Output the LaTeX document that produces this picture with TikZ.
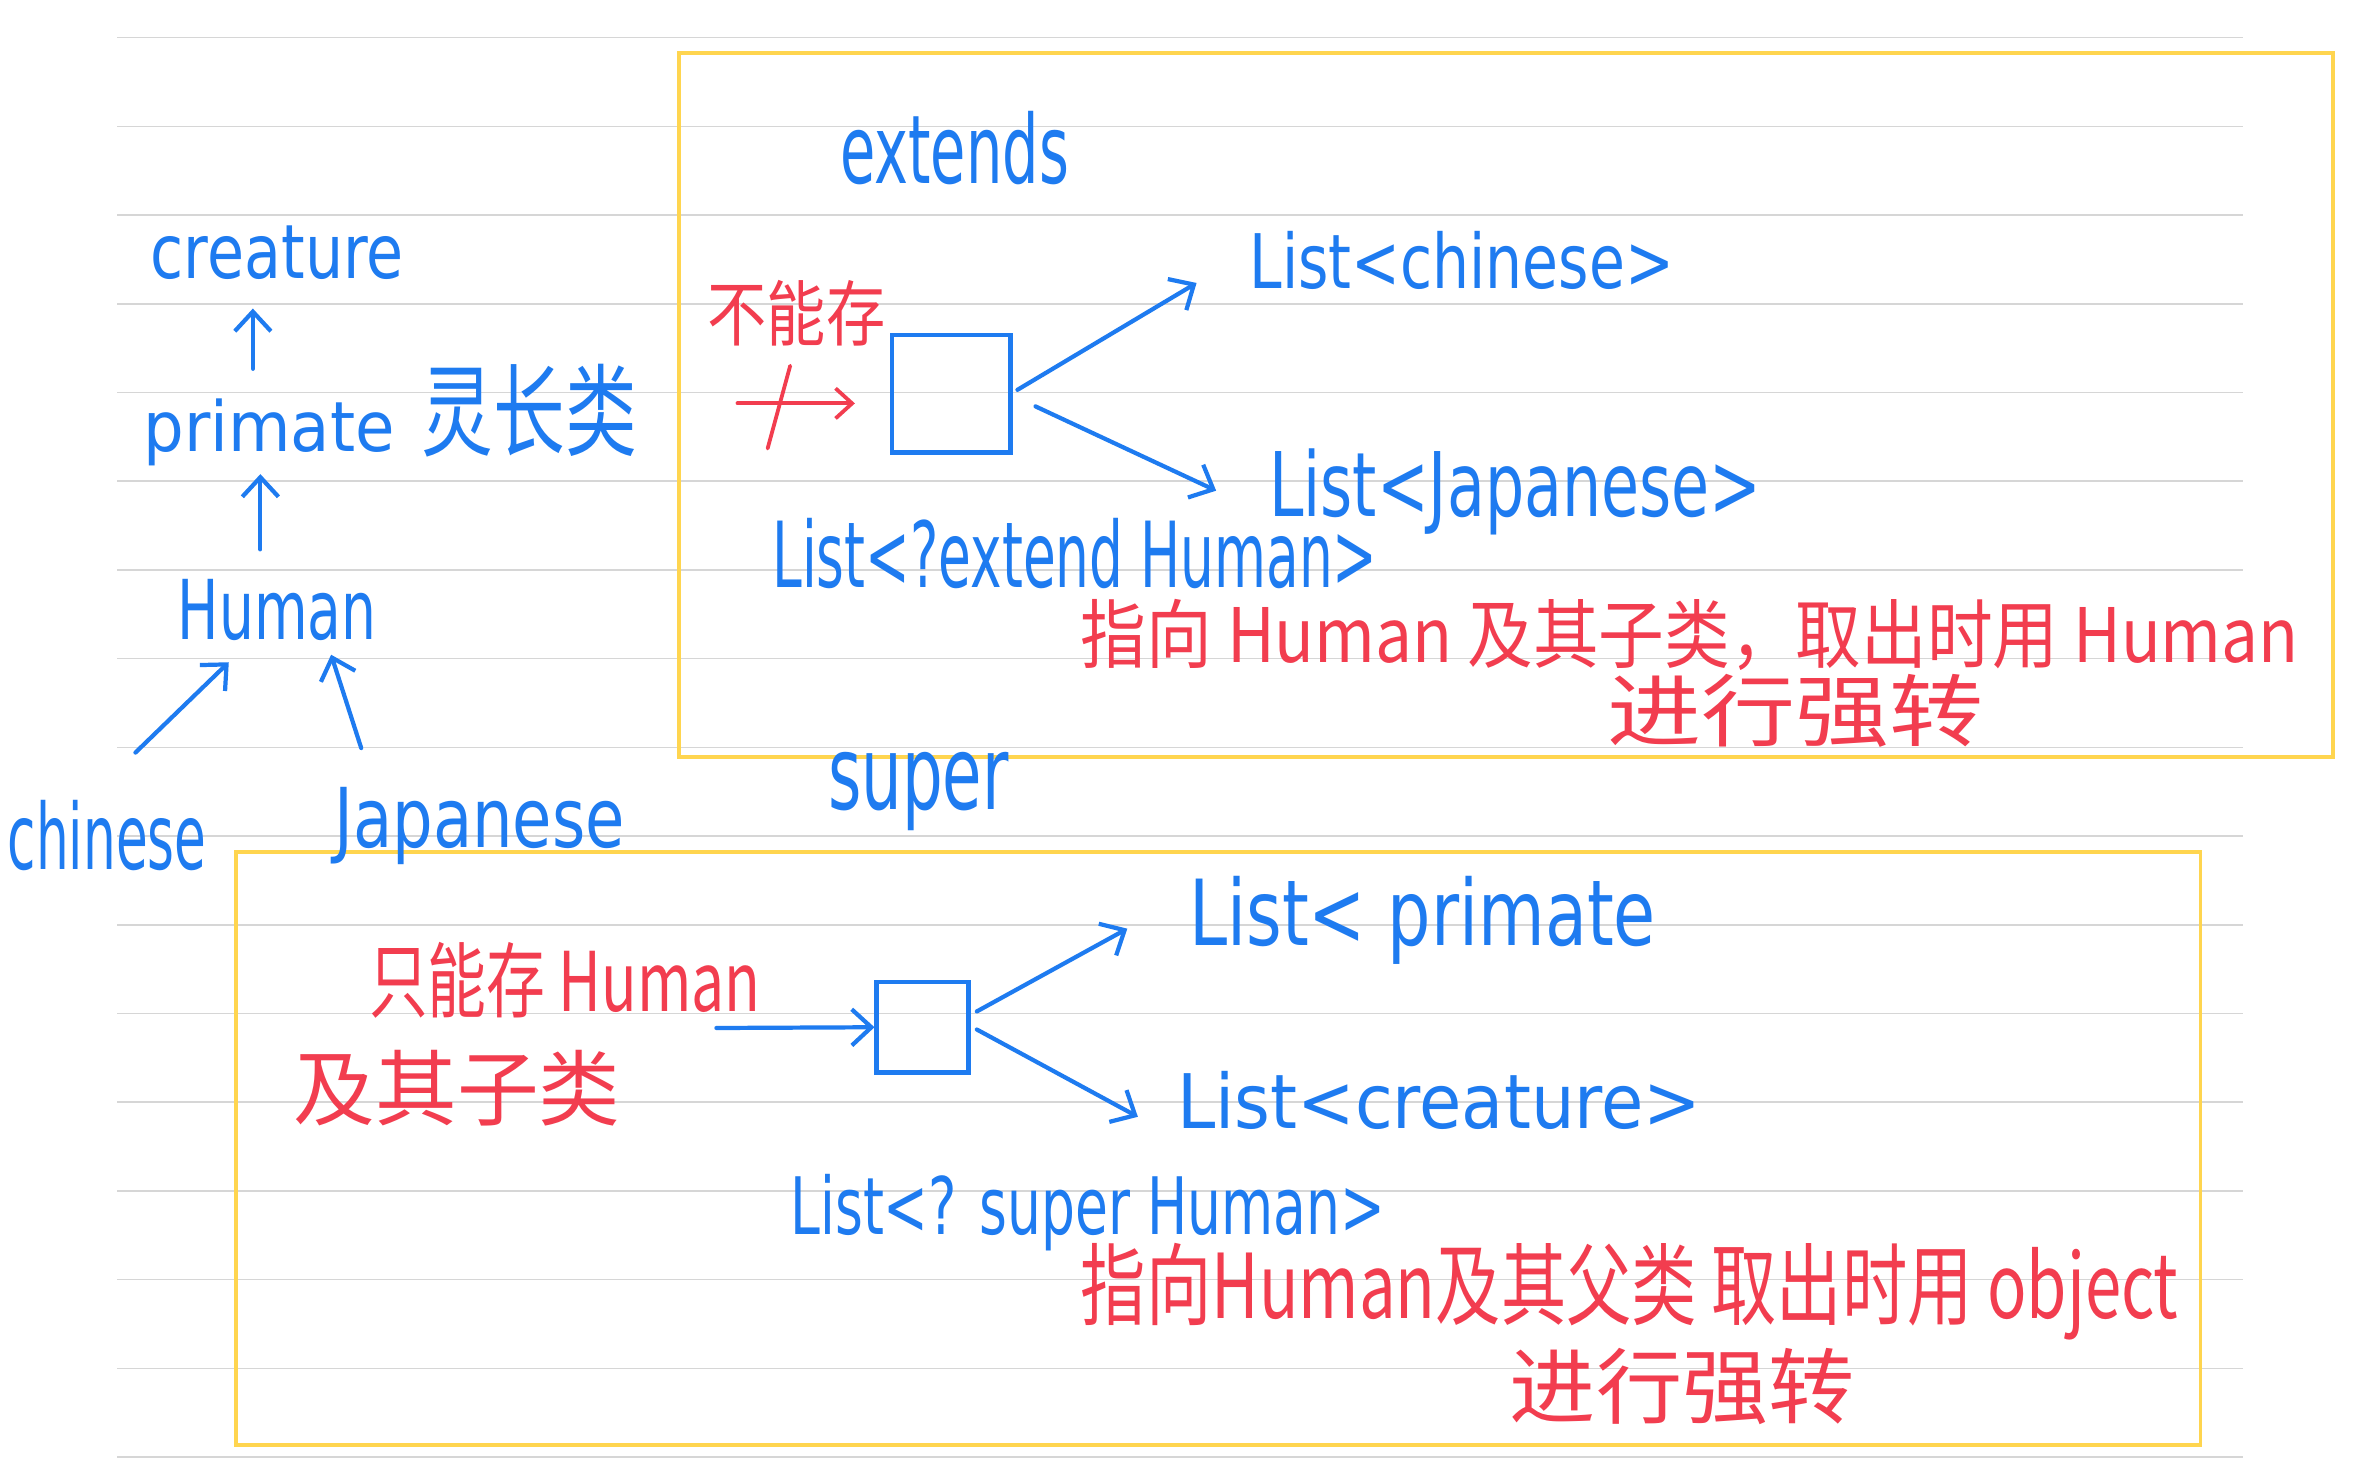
\documentclass[tikz,border=0pt]{standalone}
\usepackage{fontspec}
\usepackage{graphicx}
\setmainfont{DejaVu Sans}
\newfontfamily\cjk{Noto Sans CJK SC}
\usetikzlibrary{arrows.meta}
\definecolor{pen}{HTML}{1E7BF0}
\definecolor{ink}{HTML}{F23D4F}
\definecolor{hl}{HTML}{FFD54F}
\definecolor{rulec}{HTML}{D6D6D6}
\newcommand\fitbox[3]{\resizebox{#1pt}{#2pt}{#3}}
\begin{document}
\begin{tikzpicture}[x=1pt,y=-1pt,
  lbl/.style={inner sep=0pt, anchor=base west, text=pen},
  note/.style={inner sep=0pt, anchor=base west, text=ink},
  arr/.style={draw=pen, line width=2.8pt, line cap=round, -{Straight Barb[length=13pt,width=24pt,line width=2.8pt]}},
  redarr/.style={draw=ink, line width=2.5pt, line cap=round, -{Straight Barb[length=11pt,width=20pt,line width=2.5pt]}},
  boxc/.style={draw=hl, line width=2.5pt},
  sq/.style={draw=pen, line width=3pt, inner sep=0pt}]
\useasboundingbox[fill=white] (0,0) rectangle (1568,970);
% ruled paper
\foreach \k in {0,...,16}{\draw[rulec, line width=1pt] (78,{25+58.94*\k}) -- (1490,{25+58.94*\k});}
% frames
\draw[boxc] (451,35) rectangle (1550,503);
\draw[boxc] (157,566) rectangle (1462,960);
% hierarchy
\node[lbl] (creature) at (100,185) {\fitbox{168}{35}{creature}};
\node[lbl] (primate) at (95,300) {\fitbox{167}{35}{primate}};
\node[lbl] (ling) at (280,298) {\fitbox{143}{56}{\cjk 灵长类}};
\node[lbl] (human) at (118,425) {\fitbox{132}{40}{Human}};
\node[lbl] (chinese) at (5,578) {\fitbox{132}{46}{chinese}};
\node[lbl] (japanese) at (222,563) {\fitbox{193}{40}{Japanese}};
\coordinate (a1s) at (168,245); \coordinate (a1e) at (168,205);
\coordinate (a2s) at (173,365); \coordinate (a2e) at (173,315);
\coordinate (a3s) at (90,500);  \coordinate (a3e) at (152,440);
\coordinate (a4s) at (240,497); \coordinate (a4e) at (220,435);
\draw[arr] (a1s) -- (a1e);
\draw[arr] (a2s) -- (a2e);
\draw[arr] (a3s) -- (a3e);
\draw[arr] (a4s) -- (a4e);
% extends
\node[lbl] (extends) at (558,122) {\fitbox{152}{48}{extends}};
\node[note] (cannot) at (470,226) {\fitbox{118}{40}{\cjk 不能存}};
\node[sq, minimum width=79pt, minimum height=78pt] (sq1) at (632,261.5) {};
\coordinate (r1s) at (490,268); \coordinate (r1e) at (568,268);
\coordinate (x1s) at (510,298); \coordinate (x1e) at (525,243);
\draw[redarr] (r1s) -- (r1e);
\draw[draw=ink, line width=2.5pt, line cap=round] (x1s) -- (x1e);
\node[lbl] (lch) at (830,192) {\fitbox{282}{38}{List<chinese>}};
\node[lbl] (ljp) at (843,343) {\fitbox{327}{45}{List<Japanese>}};
\coordinate (b1s) at (676,259); \coordinate (b1e) at (795,188);
\coordinate (b2s) at (688,270); \coordinate (b2e) at (808,326);
\draw[arr] (b1s) -- (b1e);
\draw[arr] (b2s) -- (b2e);
\node[lbl] (lext) at (513,390) {\fitbox{402}{46}{List<?extend Human>}};
\node[note] (n1) at (718,440) {\fitbox{809}{42}{\cjk 指向 Human 及其子类，取出时用 Human}};
\node[note] (n2) at (1068,492) {\fitbox{250}{44}{\cjk 进行强转}};
% super
\node[lbl] (super) at (550,538) {\fitbox{120}{38}{super}};
\node[note] (only) at (245,672) {\fitbox{260}{46}{\cjk 只能存 Human}};
\node[note] (sub) at (195,744) {\fitbox{217}{46}{\cjk 及其子类}};
\node[sq, minimum width=61pt, minimum height=60pt] (sq2) at (613,682.5) {};
\coordinate (inS) at (476,683);
\draw[arr] (inS) -- (sq2.west);
\node[lbl] (lpr) at (790,628) {\fitbox{310}{46}{List< primate}};
\node[lbl] (lcr) at (782,750) {\fitbox{348}{38}{List<creature>}};
\coordinate (c1s) at (649,672); \coordinate (c1e) at (749,617);
\coordinate (c2s) at (649,684); \coordinate (c2e) at (756,742);
\draw[arr] (c1s) -- (c1e);
\draw[arr] (c2s) -- (c2e);
\node[lbl] (lsup) at (525,820) {\fitbox{395}{40}{List<? super Human>}};
\node[note] (n3) at (718,876) {\fitbox{729}{50}{\cjk 指向Human及其父类 取出时用 object}};
\node[note] (n4) at (1003,942) {\fitbox{229}{46}{\cjk 进行强转}};
\end{tikzpicture}
\end{document}
